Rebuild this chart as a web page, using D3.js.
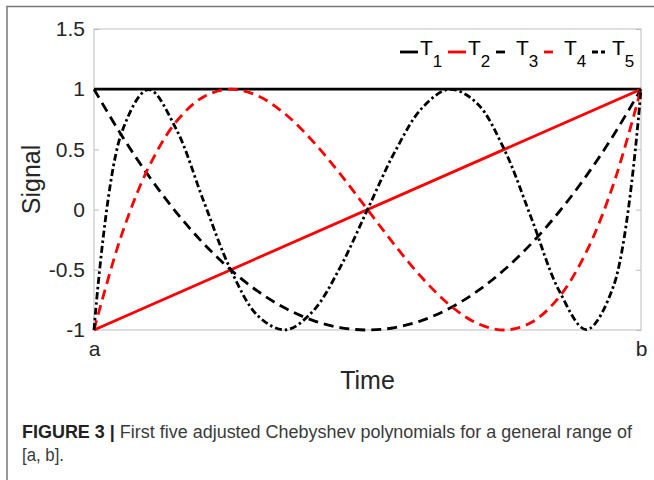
<!DOCTYPE html>
<html>
<head>
<meta charset="utf-8">
<script src="https://cdn.jsdelivr.net/npm/d3@7"></script>
<style>
  body { margin: 0; background: #fff; }
  svg { display: block; font-family: "Liberation Sans", Arial, sans-serif; }
</style>
</head>
<body>
<div id="chart"></div>
<script>
// sample positions along [a, b] (0 = a, 1 = b)
var tPos = [0, 0.05, 0.1, 0.15, 0.2, 0.25, 0.3, 0.35, 0.4, 0.45, 0.5,
            0.55, 0.6, 0.65, 0.7, 0.75, 0.8, 0.85, 0.9, 0.95, 1];
var endPos = [0, 1];

// values
var t1 = [1, 1];
var t2 = [-1, 1];
var t3 = [1, 0.62, 0.28, -0.02, -0.28, -0.5, -0.68, -0.82, -0.92, -0.98, -1,
          -0.98, -0.92, -0.82, -0.68, -0.5, -0.28, -0.02, 0.28, 0.62, 1];
var t4 = [-1, -0.216, 0.352, 0.728, 0.936, 1, 0.944, 0.792, 0.568, 0.296, 0,
          -0.296, -0.568, -0.792, -0.944, -1, -0.936, -0.728, -0.352, 0.216, 1];
var t5 = [-1, 0.632, 0.997, 0.671, 0.076, -0.5, -0.884, -0.999, -0.845, -0.48, 0,
          0.48, 0.845, 0.999, 0.884, 0.5, -0.076, -0.671, -0.997, -0.632, 1];

var seriesNames = ["1", "2", "3", "4", "5"];
var yTicks = [-1, -0.5, 0, 0.5, 1, 1.5];
var xTickLabels = ["a", "b"];

var width = 654, height = 480;
var svg = d3.select("#chart").append("svg")
    .attr("width", width)
    .attr("height", height);

// figure frame (left and top edges only)
svg.append("path")
    .attr("d", "M7,480 L7,6.5 L654,6.5")
    .attr("fill", "none")
    .attr("stroke", "#777")
    .attr("stroke-width", 1.5);

var x = d3.scaleLinear().domain([0, 1]).range([94, 641]);
var y = d3.scaleLinear().domain([-1, 1.5]).range([330, 29]);

//axes box
svg.append("rect")
    .attr("x", x(0)).attr("y", y(1.5))
    .attr("width", x(1) - x(0)).attr("height", y(-1) - y(1.5))
    .attr("fill", "none")
    .attr("stroke", "#bdbdbd")
    .attr("stroke-width", 1);

var yAxisL = svg.append("g")
    .attr("transform", "translate(" + x(0) + ",0)")
    .call(d3.axisLeft(y).tickValues(yTicks).tickSizeInner(-5).tickSizeOuter(0).tickPadding(9)
        .tickFormat(function (d) { return d; }));
yAxisL.select(".domain").remove();
yAxisL.selectAll("line").attr("stroke", "#bdbdbd");
yAxisL.selectAll("text")
    .attr("font-size", 21)
    .attr("fill", "#262626")
    .attr("font-family", "Liberation Sans, Arial, sans-serif");

var yAxisR = svg.append("g")
    .attr("transform", "translate(" + x(1) + ",0)")
    .call(d3.axisRight(y).tickValues(yTicks).tickSizeInner(-5).tickSizeOuter(0).tickFormat(""));
yAxisR.select(".domain").remove();
yAxisR.selectAll("line").attr("stroke", "#bdbdbd");

var xAxis = svg.append("g")
    .attr("transform", "translate(0," + y(-1) + ")")
    .call(d3.axisBottom(x).tickValues(endPos).tickSizeInner(0).tickSizeOuter(0).tickPadding(11)
        .tickFormat(function (d, i) { return xTickLabels[i]; }));
xAxis.select(".domain").remove();
xAxis.selectAll("text")
    .attr("font-size", 21)
    .attr("fill", "#262626")
    .attr("font-family", "Liberation Sans, Arial, sans-serif");

// axis titles
svg.append("text")
    .attr("x", (x(0) + x(1)) / 2).attr("y", 389)
    .attr("text-anchor", "middle")
    .attr("font-size", 25)
    .attr("fill", "#262626")
    .text("Time");
svg.append("text")
    .attr("transform", "translate(40," + (y(-1) + y(1.5)) / 2 + ") rotate(-90)")
    .attr("text-anchor", "middle")
    .attr("font-size", 25)
    .attr("fill", "#262626")
    .text("Signal");

// curves
var lines = [
    { name: "1", xs: endPos, ys: t1, color: "#000", dash: null },
    { name: "2", xs: endPos, ys: t2, color: "#ff0000", dash: null },
    { name: "3", xs: tPos, ys: t3, color: "#000", dash: "10,6" },
    { name: "4", xs: tPos, ys: t4, color: "#ff0000", dash: "10,6" },
    { name: "5", xs: tPos, ys: t5, color: "#000", dash: "7,3,2.5,3" }
];

var lineGen = d3.line()
    .x(function (d) { return x(d[0]); })
    .y(function (d) { return y(d[1]); })
    .curve(d3.curveCatmullRom.alpha(0.5));

svg.selectAll("path.curve")
    .data(lines)
    .enter()
    .append("path")
    .attr("class", "curve")
    .attr("d", function (d) { return lineGen(d3.zip(d.xs, d.ys)); })
    .attr("fill", "none")
    .attr("stroke", function (d) { return d.color; })
    .attr("stroke-width", 2.8)
    .attr("stroke-dasharray", function (d) { return d.dash; });

// legend
var legend = svg.selectAll("g.legend")
    .data(lines)
    .enter()
    .append("g")
    .attr("class", "legend")
    .attr("transform", function (d, i) { return "translate(" + (400 + i * 48) + ",0)"; });

legend.append("line")
    .attr("x1", 0).attr("x2", 18)
    .attr("y1", 52).attr("y2", 52)
    .attr("stroke", function (d) { return d.color; })
    .attr("stroke-width", 2.8)
    .attr("stroke-dasharray", function (d) { return d.dash ? (d.name === "5" ? "6,3,4,20" : "9,20") : null; });

var lt = legend.append("text")
    .attr("x", 20).attr("y", 55)
    .attr("font-size", 21)
    .attr("fill", "#000");
lt.append("tspan").text("T");
lt.append("tspan")
    .attr("dy", 12)
    .attr("font-size", 17)
    .text(function (d) { return d.name; });

// caption
var cap = svg.append("text")
    .attr("x", 22).attr("y", 438)
    .attr("font-size", 17.5)
    .attr("fill", "#3a3a3a")
    .attr("textLength", 610)
    .attr("lengthAdjust", "spacingAndGlyphs");
cap.append("tspan").attr("font-weight", "bold").attr("fill", "#222").text("FIGURE 3 | ");
cap.append("tspan").text("First five adjusted Chebyshev polynomials for a general range of");

svg.append("text")
    .attr("x", 22).attr("y", 461)
    .attr("font-size", 17.5)
    .attr("fill", "#3a3a3a")
    .attr("textLength", 42)
    .attr("lengthAdjust", "spacingAndGlyphs")
    .text("[a, b].");
</script>
</body>
</html>
